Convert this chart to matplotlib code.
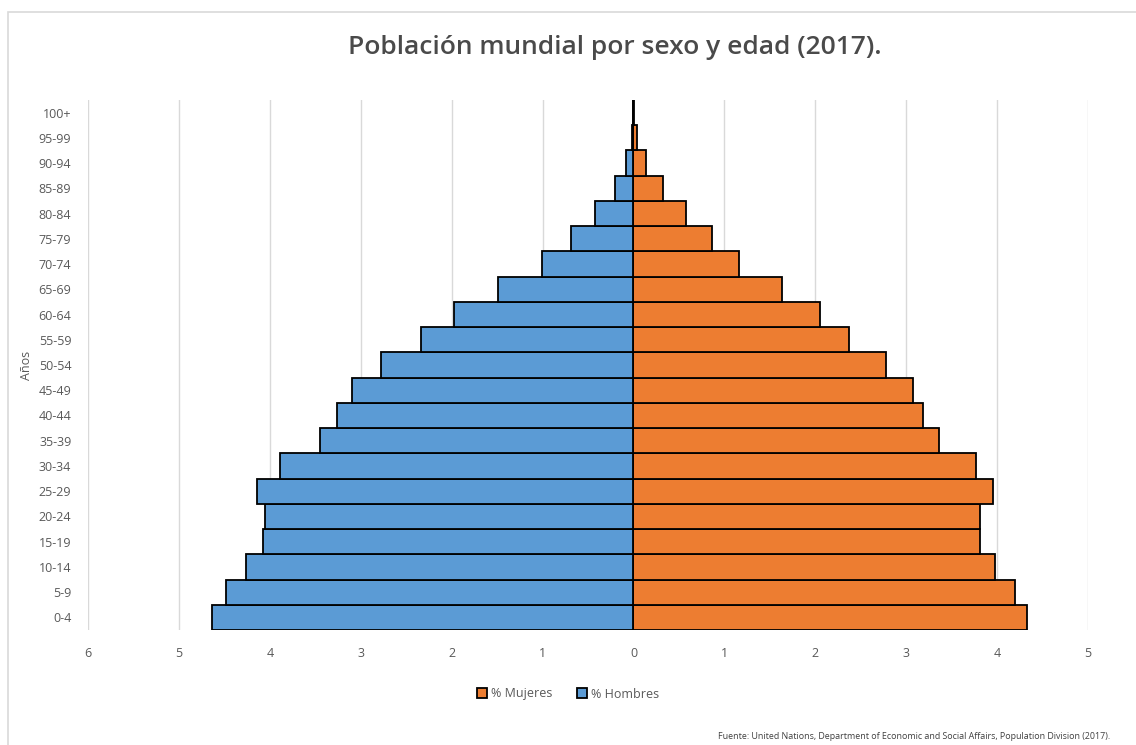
import numpy as np
import matplotlib.pyplot as plt
from matplotlib.patches import Rectangle

# Age groups, bottom to top
age_groups = ["0-4", "5-9", "10-14", "15-19", "20-24", "25-29", "30-34",
              "35-39", "40-44", "45-49", "50-54", "55-59", "60-64", "65-69",
              "70-74", "75-79", "80-84", "85-89", "90-94", "95-99", "100+"]

# Percent of world population (2017)
hombres = [4.64, 4.48, 4.26, 4.08, 4.05, 4.14, 3.89, 3.45, 3.26, 3.10, 2.78,
           2.34, 1.97, 1.49, 1.01, 0.69, 0.42, 0.20, 0.08, 0.02, 0.003]
mujeres = [4.33, 4.20, 3.98, 3.81, 3.81, 3.96, 3.77, 3.36, 3.18, 3.07, 2.78,
           2.37, 2.05, 1.63, 1.16, 0.86, 0.58, 0.33, 0.14, 0.04, 0.01]

x_ticks = [-6, -5, -4, -3, -2, -1, 0, 1, 2, 3, 4, 5]

plt.rcParams['font.family'] = ['Open Sans', 'DejaVu Sans']

fig = plt.figure(figsize=(11.36, 7.45), dpi=100)
ax = fig.add_axes([88 / 1136, 1 - 630 / 745, 1000 / 1136, 530 / 745])

# outer chart border
fig.patches.append(Rectangle((8 / 1136, -0.1), 1.2, 1 - 12 / 745 + 0.1,
                             transform=fig.transFigure, fill=False,
                             edgecolor="#d9d9d9", linewidth=1.2))

y = np.arange(len(age_groups))
ax.barh(y, mujeres, height=1.0, color="#ed7d31", edgecolor="black",
        linewidth=1.3, label="% Mujeres", zorder=3)
ax.barh(y, -np.array(hombres), height=1.0, color="#5b9bd5", edgecolor="black",
        linewidth=1.3, label="% Hombres", zorder=3)

ax.set_xlim(-6, 5)
ax.set_ylim(-0.5, len(age_groups) - 0.5)
ax.set_xticks(x_ticks)
ax.set_xticklabels([str(abs(t)) for t in x_ticks], fontsize=9, color="#595959")
ax.set_yticks(y)
ax.set_yticklabels(age_groups, fontsize=9, color="#595959")
ax.tick_params(length=0, pad=12)
ax.tick_params(axis="x", pad=12)
ax.grid(axis="x", color="#d9d9d9", linewidth=1.0, zorder=0)
for s in ax.spines.values():
    s.set_visible(False)

ax.set_ylabel("Años", fontsize=9, color="#595959", labelpad=4)

fig.text(0.541, 1 - 47 / 745, "Población mundial por sexo y edad (2017).",
         ha="center", va="center", fontsize=19, fontweight="semibold",
         color="#4a4a4a")

ax.legend(loc="center", bbox_to_anchor=(0.5, (745 - 694) / 745),
          bbox_transform=fig.transFigure, ncol=2, frameon=False, fontsize=9,
          handlelength=0.8, handleheight=0.8, columnspacing=2.0,
          handletextpad=0.3, labelcolor="#595959")

fig.text(718 / 1136, 1 - 741 / 745,
         "Fuente: United Nations, Department of Economic and Social Affairs, "
         "Population Division (2017).",
         ha="left", va="bottom", fontsize=6.4, color="#404040")

fig.savefig("out.png", dpi=100, facecolor="white")
